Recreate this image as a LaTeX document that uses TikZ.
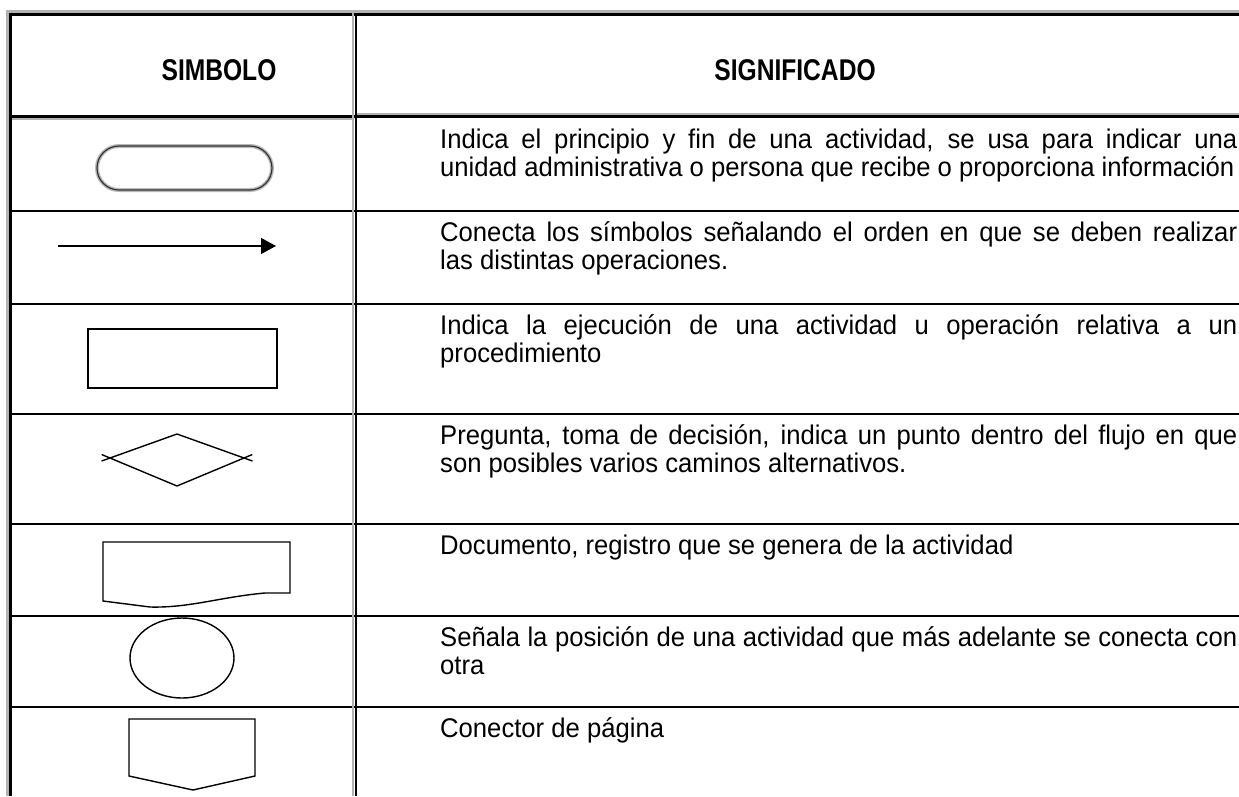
\documentclass[tikz,border=0pt]{standalone}
\usepackage{fontspec}
\setmainfont{Liberation Sans}[FakeStretch=0.95]
\newfontfamily\headfont{Liberation Sans}[FakeStretch=0.82]
\usetikzlibrary{arrows.meta}

\begin{document}
\begin{tikzpicture}[x=1pt,y=-1pt]
    \tikzstyle{every node}=[inner sep=0pt]
    \tikzstyle{desc}=[anchor=base west, text width=797pt, align=justify, font={\fontsize{27}{28}\selectfont}]
    \tikzstyle{head}=[anchor=base, font={\headfont\bfseries\fontsize{30}{30}\selectfont}]
    \tikzstyle{rowline}=[line width=1.6pt]
    \tikzstyle{sym}=[line width=1.4pt]
    \useasboundingbox (0,0) rectangle (1239,796);
    % marco de la tabla
    \draw[gray!60, line width=3pt] (7.5,796) -- (7.5,11.5) -- (1239,11.5);
    \draw[line width=3pt] (10.5,796) -- (10.5,14.5) -- (1239,14.5);
    \draw[gray!60, line width=2.5pt] (12,119) -- (353,119);
    \draw[gray!60, line width=2.5pt] (355,114.5) -- (1239,114.5);
    \draw[line width=2.5pt] (12,116.7) -- (1239,116.7);
    \foreach \y in {211,304,414,524,616,707}
        \draw[rowline] (12,\y) -- (1239,\y);
    \draw[gray!60, line width=2.5pt] (353,13) -- (353,796);
    \draw[line width=2.5pt] (355.8,13) -- (355.8,796);
    % encabezado
    \node[head] (hsim) at (219,80) {SIMBOLO};
    \node[head] (hsig) at (795,80) {SIGNIFICADO};
    % descripciones
    \node[desc] (d1) at (440,148) {Indica el principio y fin de una actividad, se usa para indicar una\linebreak unidad administrativa o persona que recibe o proporciona información};
    \node[desc] (d2) at (440,241) {Conecta los símbolos señalando el orden en que se deben realizar\linebreak las distintas operaciones.};
    \node[desc] (d3) at (440,334) {Indica la ejecución de una actividad u operación relativa a un\linebreak procedimiento};
    \node[desc] (d4) at (440,444) {Pregunta, toma de decisión, indica un punto dentro del flujo en que\linebreak son posibles varios caminos alternativos.};
    \node[desc] (d5) at (440,554) {Documento, registro que se genera de la actividad};
    \node[desc] (d6) at (440,646) {Señala la posición de una actividad que más adelante se conecta con\linebreak otra};
    \node[desc] (d7) at (440,737) {Conector de página};
    % simbolos
    \draw[gray!55, line width=4pt, rounded corners=22pt] (97,146) rectangle (272,190);
    \draw[black!80, line width=1.2pt, rounded corners=22pt] (97,146) rectangle (272,190);
    \coordinate (a1) at (58,246);
    \coordinate (a2) at (276,246);
    \draw[line width=1.3pt, -{Triangle[length=15pt,width=16pt]}] (a1) -- (a2);
    \draw[sym] (88,329) rectangle (277,388);
    \coordinate (dt) at (177,434);
    \coordinate (db) at (177,486);
    \coordinate (dl) at (110,458);
    \coordinate (dr) at (244,458);
    \draw[sym, shorten >=-9pt] (dt) -- (dl);
    \draw[sym, shorten >=-9pt] (db) -- (dl);
    \draw[sym, shorten >=-9pt] (dt) -- (dr);
    \draw[sym, shorten >=-9pt] (db) -- (dr);
    \draw[sym] (103,601) -- (103,542) -- (290,542) -- (290,593) -- (265,593)
        .. controls (220,597) and (190,608) .. (150,607) -- cycle;
    \draw[sym] (182,658) ellipse (52pt and 40pt);
    \draw[sym] (129,719) -- (255,719) -- (255,776) -- (193,790) -- (129,776) -- cycle;
\end{tikzpicture}
\end{document}
